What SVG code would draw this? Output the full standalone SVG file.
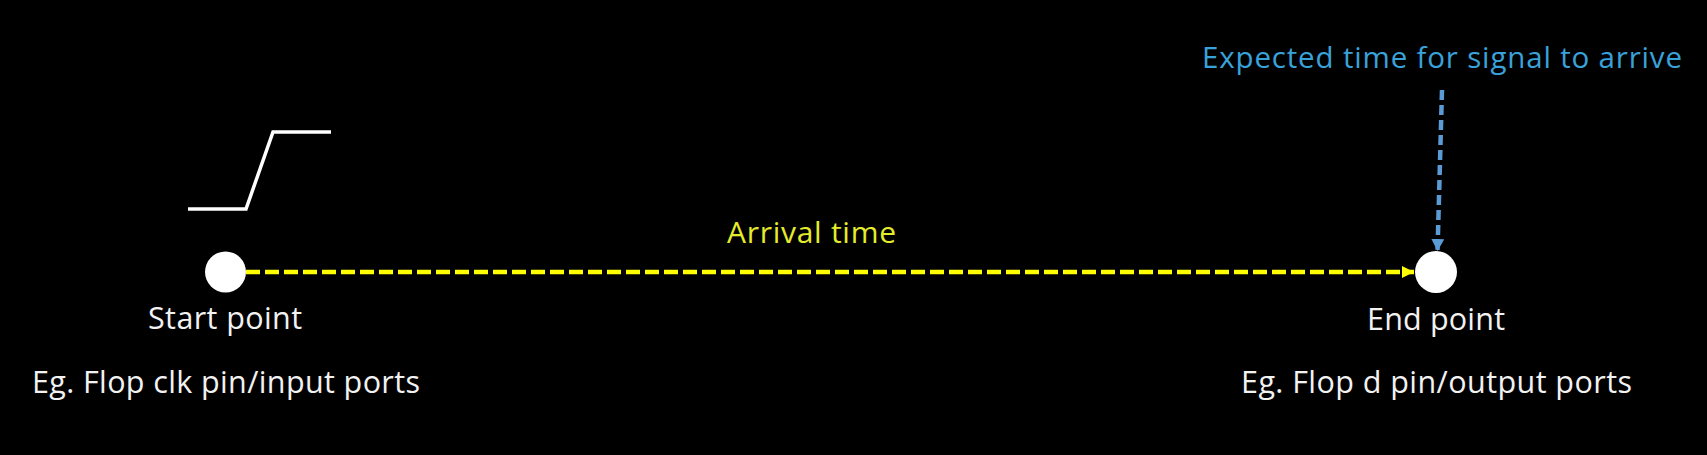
<svg xmlns="http://www.w3.org/2000/svg" width="1707" height="455" viewBox="0 0 1707 455">
  <style>
    .lbl { font-family: "Open Sans", "Liberation Sans", sans-serif; font-size: 30.5px; fill: #f2f2f2; }
    .yel { font-family: "Open Sans", "Liberation Sans", sans-serif; font-size: 30px; fill: #e4ec2c; }
    .blu { font-family: "Open Sans", "Liberation Sans", sans-serif; font-size: 29.5px; fill: #3aa2da; }
    .pt { fill: #ffffff; }
  </style>
  <defs>
    <marker id="ay" viewBox="0 0 12 12" refX="12" refY="6" markerWidth="12" markerHeight="12" markerUnits="userSpaceOnUse" orient="auto">
      <path d="M0,0 L12,6 L0,12 Z" fill="#ffff00"/>
    </marker>
    <marker id="ab" viewBox="0 0 12 13" refX="12" refY="6.5" markerWidth="12" markerHeight="13" markerUnits="userSpaceOnUse" orient="auto">
      <path d="M0,0 L12,6.5 L0,13 Z" fill="#5b9bd5"/>
    </marker>
  </defs>
  <rect x="0" y="0" width="1707" height="455" fill="#000000"/>

  <g id="waveform">
    <polyline points="188,209 246,209 273,132 331,132" fill="none" stroke="#ffffff" stroke-width="3.5"/>
  </g>

  <g id="connectors">
    <line x1="246" y1="272" x2="1414" y2="272" stroke="#ffff00" stroke-width="4.5" stroke-dasharray="14 5" marker-end="url(#ay)"/>
    <line x1="1442" y1="90" x2="1437.5" y2="251" stroke="#5b9bd5" stroke-width="4.5" stroke-dasharray="10 5" marker-end="url(#ab)"/>
  </g>

  <g id="start">
    <circle class="pt" cx="225.5" cy="272" r="20.5"/>
    <text class="lbl" x="148" y="329" textLength="154">Start point</text>
    <text class="lbl" x="32" y="393" textLength="388">Eg. Flop clk pin/input ports</text>
  </g>

  <g id="end">
    <circle class="pt" cx="1436" cy="272" r="21"/>
    <text class="lbl" x="1367" y="330" textLength="138">End point</text>
    <text class="lbl" x="1241" y="393" textLength="391">Eg. Flop d pin/output ports</text>
  </g>

  <g id="arrival">
    <text class="yel" x="727" y="243" textLength="169">Arrival time</text>
  </g>

  <g id="expected">
    <text class="blu" x="1202" y="68" textLength="480">Expected time for signal to arrive</text>
  </g>
</svg>
